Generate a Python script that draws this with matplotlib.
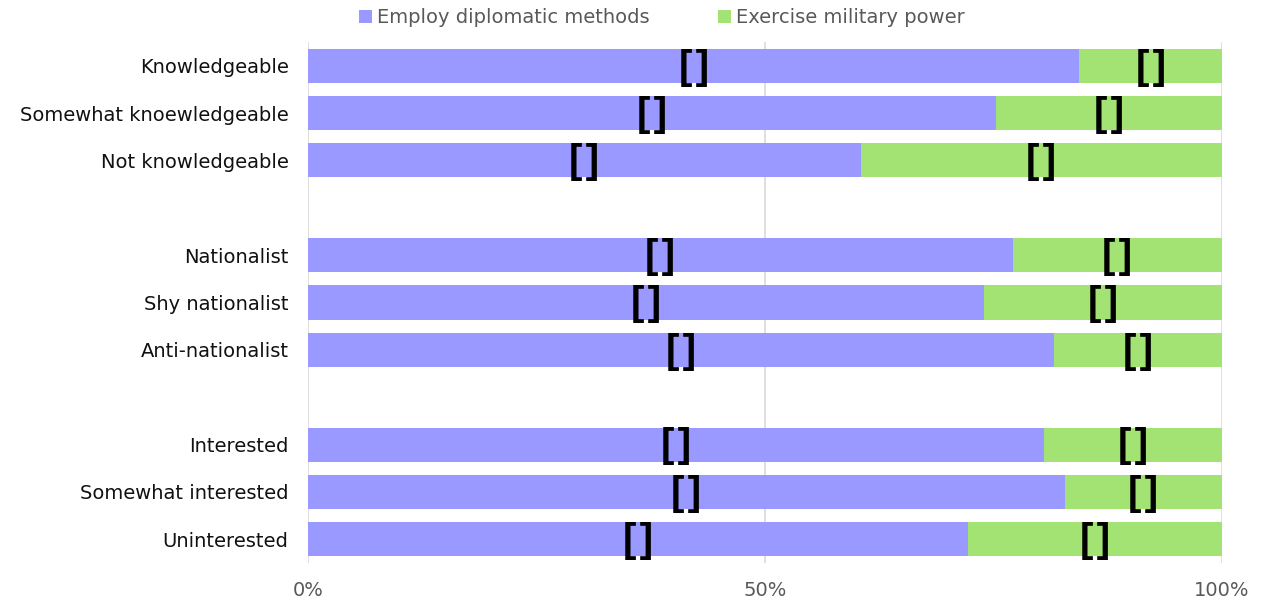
import numpy as np
import matplotlib.pyplot as plt

# Survey groups, top to bottom; None leaves a blank row between groups
categories = ["Knowledgeable", "Somewhat knoewledgeable", "Not knowledgeable", None,
              "Nationalist", "Shy nationalist", "Anti-nationalist", None,
              "Interested", "Somewhat interested", "Uninterested"]
diplomatic = [0.844, 0.753, 0.605, None, 0.771, 0.740, 0.816, None, 0.805, 0.828, 0.722]
military = [0.156, 0.247, 0.395, None, 0.229, 0.260, 0.184, None, 0.195, 0.172, 0.278]
series_names = ["Employ diplomatic methods", "Exercise military power"]
tick_labels = ["0%", "50%", "100%"]

blue = "#9999FF"
green = "#A2E374"

fig = plt.figure(figsize=(12.68, 6.08), dpi=100)
ax = fig.add_axes([0.2429, 0.074, 0.7208, 0.8569])

rows = [i for i, c in enumerate(categories) if c is not None]
y = np.array(rows)
d = np.array([diplomatic[i] for i in rows])
m = np.array([military[i] for i in rows])

b1 = ax.barh(y, d, height=0.72, color=blue, label=series_names[0], zorder=2)
b2 = ax.barh(y, m, left=d, height=0.72, color=green, label=series_names[1], zorder=2)

# empty data labels centred in each segment
for yi, di, mi in zip(y, d, m):
    for xc in (di / 2, di + mi / 2):
        ax.text(xc, yi + 0.04, "[\u200a]", ha="center", va="center", fontsize=29,
                fontweight="bold", family=["Liberation Sans", "DejaVu Sans"],
                color="black", zorder=3)

ax.set_ylim(len(categories) - 0.5, -0.5)
ax.set_xlim(0, 1)
ax.set_yticks(y)
ax.set_yticklabels([categories[i] for i in rows], fontsize=14, color="#111111")
ax.set_xticks([0, 0.5, 1])
ax.set_xticklabels(tick_labels, fontsize=14, color="#595959")
ax.tick_params(length=0, axis="y", pad=14)
ax.tick_params(length=0, axis="x", pad=13)
ax.grid(axis="x", color="#D9D9D9", linewidth=1.2, zorder=0)
for s in ["top", "right", "bottom", "left"]:
    ax.spines[s].set_visible(False)

fig.legend(handles=[b1, b2], loc="upper center", bbox_to_anchor=(0.522, 1.015), ncol=2,
           frameon=False, fontsize=14, labelcolor="#595959",
           handlelength=0.7, handleheight=0.7, handletextpad=0.25, columnspacing=3.5)

fig.savefig("out.png", dpi=100)
